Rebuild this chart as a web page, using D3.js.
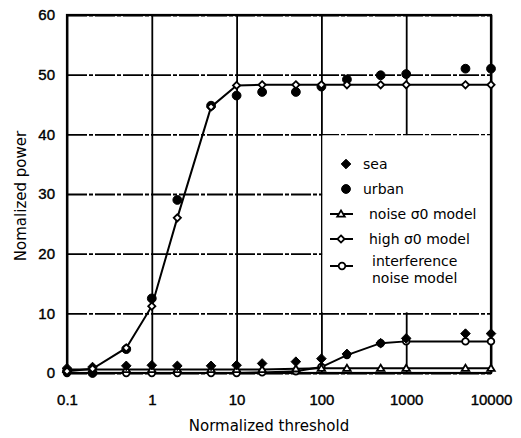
<!DOCTYPE html>
<html>
<head>
<meta charset="utf-8">
<script src="https://cdn.jsdelivr.net/npm/d3@7"></script>
<style>
  html, body { margin: 0; padding: 0; background: #fff; }
  svg { display: block; }
</style>
</head>
<body>
<svg id="chart" width="521" height="438"></svg>
<script>
// ---- data ----
const thresholds = [0.1, 0.2, 0.5, 1, 2, 5, 10, 20, 50, 100, 200, 500, 1000, 5000, 10000];
const seaValues = [0.8, 1.0, 1.2, 1.3, 1.2, 1.2, 1.3, 1.6, 1.9, 2.4, 3.2, 5.0, 5.8, 6.6, 6.6];
const urbanValues = [0.3, 0.0, 4.0, 12.5, 29.0, 44.8, 46.5, 47.1, 47.1, 48.0, 49.2, 49.9, 50.1, 51.0, 51.0];
const noiseModelValues = [0.6, 0.6, 0.6, 0.6, 0.6, 0.6, 0.6, 0.6, 0.7, 0.8, 0.8, 0.8, 0.8, 0.8, 0.8];
const highModelValues = [0.3, 0.7, 4.2, 11.2, 26.0, 44.6, 48.2, 48.3, 48.3, 48.3, 48.3, 48.3, 48.3, 48.3, 48.3];
const interferenceValues = [0.0, 0.0, 0.0, 0.0, 0.0, 0.0, 0.0, 0.1, 0.3, 1.0, 3.0, 5.0, 5.3, 5.3, 5.3];
const xTickValues = [0.1, 1, 10, 100, 1000, 10000];
const xTickLabels = ["0.1", "1", "10", "100", "1000", "10000"];
const yTickValues = [0, 10, 20, 30, 40, 50, 60];
const xTitle = "Normalized threshold";
const yTitle = "Nomalized power";
const legendLabels = ["sea", "urban", "noise \u03c30 model", "high \u03c30  model", "interference", "noise model"];

// ---- layout ----
const L = 67, R = 491, T = 15, B = 373;
const svg = d3.select("#chart");
const x = d3.scaleLog().domain([0.1, 10000]).range([L, R]);
const y = d3.scaleLinear().domain([0, 60]).range([B, T]);
const tickFont = "'Liberation Sans', Arial, sans-serif";
const textFont = "'DejaVu Sans', sans-serif";

// grid: vertical
const vgrid = svg.append("g").attr("transform", `translate(0,${B})`)
  .call(d3.axisBottom(x).tickValues(xTickValues).tickSize(-(B - T)).tickFormat(""));
vgrid.select(".domain").remove();
vgrid.selectAll("line").attr("stroke", "#000").attr("stroke-width", 1.8);

// grid: horizontal (dashed)
const hgrid = svg.append("g").attr("transform", `translate(${L},0)`)
  .call(d3.axisLeft(y).tickValues(yTickValues).tickSize(-(R - L)).tickFormat(""));
hgrid.select(".domain").remove();
hgrid.selectAll("line").attr("stroke", "#000").attr("stroke-width", 1.8)
  .attr("stroke-dasharray", "20,2,4,2");

// legend background hides grid
svg.append("rect")
  .attr("x", x(100) + 1).attr("y", y(40) + 1)
  .attr("width", x(10000) - x(100) - 2).attr("height", y(10) - y(40) - 2)
  .attr("fill", "#fff");

// frame
svg.append("rect").attr("x", L).attr("y", T).attr("width", R - L).attr("height", B - T)
  .attr("fill", "none").attr("stroke", "#000").attr("stroke-width", 2.2);

// tick labels
const xAxis = svg.append("g").attr("transform", `translate(0,${B})`)
  .call(d3.axisBottom(x).tickValues(xTickValues).tickSize(0).tickPadding(21)
    .tickFormat((d, i) => xTickLabels[i]));
xAxis.select(".domain").remove();
xAxis.selectAll("text").attr("font-family", tickFont).attr("font-size", 15)
  .attr("fill", "#000").attr("stroke", "#000").attr("stroke-width", 0.4);

const yAxis = svg.append("g").attr("transform", `translate(${L},0)`)
  .call(d3.axisLeft(y).tickValues(yTickValues).tickSize(0).tickPadding(12));
yAxis.select(".domain").remove();
yAxis.selectAll("text").attr("font-family", tickFont).attr("font-size", 15)
  .attr("fill", "#000").attr("stroke", "#000").attr("stroke-width", 0.4);

// titles
svg.append("text").attr("x", 269).attr("y", 431).attr("text-anchor", "middle")
  .attr("font-family", textFont).attr("font-size", 15).text(xTitle);
svg.append("text").attr("transform", "translate(26,196) rotate(-90)").attr("text-anchor", "middle")
  .attr("font-family", textFont).attr("font-size", 15).text(yTitle);

// markers
function markerPath(type, s) {
  if (type === "diamond") return `M0,${-s}L${s},0L0,${s}L${-s},0Z`;
  if (type === "triangle") return `M0,${-s}L${s * 1.05},${s * 0.75}L${-s * 1.05},${s * 0.75}Z`;
  return d3.symbol(d3.symbolCircle, Math.PI * s * s)();
}
function drawMarkers(values, type, s, filled) {
  svg.append("g").selectAll("path").data(values).join("path")
    .attr("transform", (d, i) => `translate(${x(thresholds[i])},${y(d)})`)
    .attr("d", markerPath(type, s))
    .attr("fill", filled ? "#000" : "#fff")
    .attr("stroke", "#000").attr("stroke-width", filled ? 1 : 1.8);
}
const line = d3.line().x((d, i) => x(thresholds[i])).y(d => y(d));
function drawLine(values) {
  svg.append("path").datum(values).attr("d", line)
    .attr("fill", "none").attr("stroke", "#000").attr("stroke-width", 2);
}
drawLine(interferenceValues);
drawLine(noiseModelValues);
drawLine(highModelValues);
drawMarkers(interferenceValues, "circle", 3.3, false);
drawMarkers(noiseModelValues, "triangle", 3.6, false);
drawMarkers(seaValues, "diamond", 4.8, true);
drawMarkers(urbanValues, "circle", 4.4, true);
drawMarkers(highModelValues, "diamond", 3.6, false);

// legend
const lg = svg.append("g").attr("font-family", textFont).attr("font-size", 14).attr("fill", "#000");
function legMarker(cx, cy, type, s, filled) {
  lg.append("path").attr("transform", `translate(${cx},${cy})`).attr("d", markerPath(type, s))
    .attr("fill", filled ? "#000" : "#fff").attr("stroke", "#000").attr("stroke-width", filled ? 1 : 1.8);
}
function legLine(cy) {
  lg.append("line").attr("x1", 330).attr("x2", 353).attr("y1", cy).attr("y2", cy)
    .attr("stroke", "#000").attr("stroke-width", 2);
}
legMarker(346, 164, "diamond", 4.8, true);
lg.append("text").attr("x", 363).attr("y", 169).text(legendLabels[0]);
legMarker(346, 189, "circle", 4.4, true);
lg.append("text").attr("x", 363).attr("y", 194).text(legendLabels[1]);
legLine(214); legMarker(341, 214, "triangle", 3.6, false);
lg.append("text").attr("x", 369).attr("y", 219).text(legendLabels[2]);
legLine(239); legMarker(341, 239, "diamond", 3.6, false);
lg.append("text").attr("x", 369).attr("y", 244).text(legendLabels[3]);
legLine(266); legMarker(342, 266, "circle", 3.3, false);
lg.append("text").attr("x", 372).attr("y", 266).text(legendLabels[4]);
lg.append("text").attr("x", 372).attr("y", 283).text(legendLabels[5]);
</script>
</body>
</html>
